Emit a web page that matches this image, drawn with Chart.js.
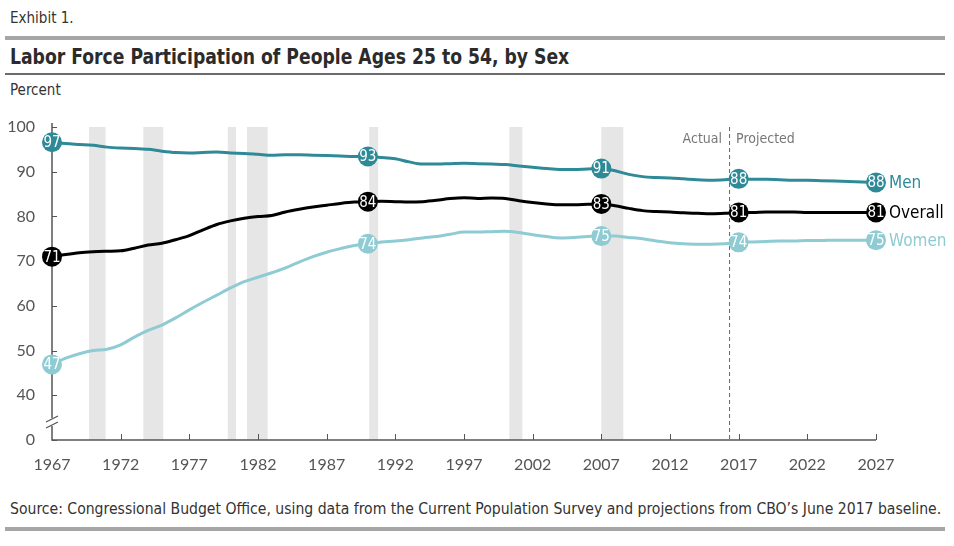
<!DOCTYPE html>
<html>
<head>
<meta charset="utf-8">
<script src="https://cdn.jsdelivr.net/npm/chart.js@4.4.1/dist/chart.umd.min.js"></script>
<style>
  body { margin: 0; background: #fff; width: 954px; height: 546px; position: relative; overflow: hidden; font-family: "Liberation Sans Narrow", "DejaVu Sans Condensed", "Roboto", sans-serif; color: #333; }
  .exhibit { position: absolute; left: 10px; top: 9px; font-size: 15px; color: #333; }
  .rule-thick { position: absolute; left: 5px; width: 940px; height: 4px; background: #a6a6a6; }
  .title { position: absolute; left: 10px; top: 44px; font-size: 22px; font-weight: bold; color: #2b2b2b; white-space: nowrap; transform: scaleX(0.87); transform-origin: left center; }
  .rule-thin { position: absolute; left: 5px; top: 73px; width: 940px; height: 2px; background: #6b6b6b; }
  .unit { position: absolute; left: 10px; top: 81px; font-size: 15px; color: #333; }
  .source { position: absolute; left: 10px; top: 500px; font-size: 15.6px; color: #333; white-space: nowrap; }
  #wrap { position: absolute; left: 0; top: 100px; width: 954px; height: 380px; }
</style>
</head>
<body>
<div class="exhibit">Exhibit 1.</div>
<div class="rule-thick" style="top:36px"></div>
<div class="title">Labor Force Participation of People Ages 25 to 54, by Sex</div>
<div class="rule-thin"></div>
<div class="unit">Percent</div>
<div id="wrap"><canvas id="lfprChart"></canvas></div>
<div class="source">Source: Congressional Budget Office, using data from the Current Population Survey and projections from CBO’s June 2017 baseline.</div>
<div class="rule-thick" style="top:527px"></div>

<script>
// Years on the x axis
const years = [
  1967, 1968, 1969, 1970, 1971, 1972, 1973, 1974, 1975, 1976,
  1977, 1978, 1979, 1980, 1981, 1982, 1983, 1984, 1985, 1986,
  1987, 1988, 1989, 1990, 1991, 1992, 1993, 1994, 1995, 1996,
  1997, 1998, 1999, 2000, 2001, 2002, 2003, 2004, 2005, 2006,
  2007, 2008, 2009, 2010, 2011, 2012, 2013, 2014, 2015, 2016,
  2017, 2018, 2019, 2020, 2021, 2022, 2023, 2024, 2025, 2026, 2027
];

// Participation rates (percent)
const men = [
  96.6, 96.3, 96.1, 95.9, 95.5, 95.3, 95.2, 95.0, 94.6, 94.3,
  94.2, 94.3, 94.4, 94.2, 94.1, 93.9, 93.7, 93.8, 93.8, 93.7,
  93.6, 93.5, 93.4, 93.4, 93.2, 92.9, 92.2, 91.7, 91.7, 91.8,
  91.9, 91.8, 91.7, 91.6, 91.3, 91.0, 90.7, 90.5, 90.5, 90.6,
  90.7, 90.2, 89.4, 88.9, 88.7, 88.6, 88.4, 88.2, 88.1, 88.2,
  88.4, 88.3, 88.3, 88.2, 88.1, 88.1, 88.0, 87.9, 87.8, 87.7, 87.6
];
const overall = [
  71.0, 71.5, 71.9, 72.1, 72.2, 72.3, 72.9, 73.6, 74.0, 74.8,
  75.7, 77.0, 78.2, 79.0, 79.6, 80.0, 80.2, 81.0, 81.6, 82.1,
  82.5, 82.9, 83.2, 83.3, 83.4, 83.3, 83.2, 83.3, 83.6, 84.0,
  84.2, 84.0, 84.1, 84.0, 83.5, 83.1, 82.8, 82.6, 82.6, 82.7,
  82.8, 82.4, 81.8, 81.3, 81.1, 81.0, 80.8, 80.7, 80.6, 80.7,
  80.9, 80.9, 81.0, 81.0, 81.0, 80.9, 80.9, 80.9, 80.9, 80.9, 80.9
];
const women = [
  46.9, 48.3, 49.3, 50.0, 50.3, 51.3, 53.0, 54.5, 55.7, 57.3,
  59.1, 60.8, 62.4, 64.0, 65.4, 66.4, 67.4, 68.5, 69.8, 71.0,
  72.0, 72.8, 73.5, 73.9, 74.3, 74.5, 74.8, 75.2, 75.5, 76.0,
  76.5, 76.5, 76.6, 76.7, 76.4, 75.9, 75.5, 75.2, 75.3, 75.5,
  75.6, 75.6, 75.3, 75.0, 74.5, 74.1, 73.9, 73.8, 73.8, 73.9,
  74.2, 74.3, 74.4, 74.5, 74.5, 74.6, 74.6, 74.7, 74.7, 74.7, 74.7
];

// Labelled points
const markerYears = [1967, 1990, 2007, 2017, 2027];
const menLabels = ["97", "93", "91", "88", "88"];
const overallLabels = ["71", "84", "83", "81", "81"];
const womenLabels = ["47", "74", "75", "74", "75"];

// Recession shading (start, end) in years
const recessionStart = [1969.7, 1973.65, 1979.8, 1981.2, 1990.1, 2000.3, 2007.0];
const recessionEnd = [1970.9, 1975.1, 1980.4, 1982.7, 1990.75, 2001.25, 2008.6];

// Actual / projected split
const splitYear = 2016.3;

const yTicks = [100, 90, 80, 70, 60, 50, 40, 30];

const menColor = "#2f8a98";
const overallColor = "#000000";
const womenColor = "#8ecbd3";
const tickFont = '"Lato", "Open Sans", sans-serif';
const narrowFont = '"Liberation Sans Narrow", "DejaVu Sans Condensed", sans-serif';

function toPoints(values) {
  return years.map((yr, i) => ({ x: yr, y: values[i] }));
}

// Plugin: shading, axes, divider and labels
const decorPlugin = {
  id: "decor",
  beforeDatasetsDraw(chart) {
    const ctx = chart.ctx;
    const x = chart.scales.x;
    const y = chart.scales.y;
    const top = y.getPixelForValue(100);
    const bottom = y.getPixelForValue(30);
    ctx.save();

    // recessions
    ctx.fillStyle = "#e6e6e6";
    recessionStart.forEach((s, i) => {
      const x0 = x.getPixelForValue(s);
      const x1 = x.getPixelForValue(recessionEnd[i]);
      ctx.fillRect(x0, top, x1 - x0, bottom - top);
    });

    // divider
    const xs = x.getPixelForValue(splitYear);
    ctx.strokeStyle = "#666";
    ctx.lineWidth = 1;
    ctx.setLineDash([4, 3]);
    ctx.beginPath();
    ctx.moveTo(xs + 0.5, top);
    ctx.lineTo(xs + 0.5, bottom);
    ctx.stroke();
    ctx.setLineDash([]);

    ctx.font = "14px " + narrowFont;
    ctx.fillStyle = "#777";
    ctx.textBaseline = "middle";
    ctx.textAlign = "right";
    ctx.fillText("Actual", xs - 7, top + 12);
    ctx.textAlign = "left";
    ctx.fillText("Projected", xs + 7, top + 12);

    // axes
    const left = x.getPixelForValue(1967);
    const right = x.getPixelForValue(2027);
    ctx.strokeStyle = "#555";
    ctx.lineWidth = 1.5;
    ctx.beginPath();
    ctx.moveTo(left, top - 4);
    ctx.lineTo(left, bottom - 22);
    ctx.moveTo(left, bottom - 14);
    ctx.lineTo(left, bottom);
    ctx.lineTo(right, bottom);
    ctx.stroke();

    // axis break
    ctx.lineWidth = 1.2;
    ctx.beginPath();
    ctx.moveTo(left - 6, bottom - 18);
    ctx.lineTo(left + 6, bottom - 24);
    ctx.moveTo(left - 6, bottom - 12);
    ctx.lineTo(left + 6, bottom - 18);
    ctx.stroke();

    // tick marks
    ctx.lineWidth = 1;
    yTicks.forEach(v => {
      const py = Math.round(y.getPixelForValue(v)) + 0.5;
      ctx.beginPath();
      ctx.moveTo(left, py);
      ctx.lineTo(left + 5, py);
      ctx.stroke();
    });
    for (let yr = 1972; yr <= 2027; yr += 5) {
      const px = Math.round(x.getPixelForValue(yr)) + 0.5;
      ctx.beginPath();
      ctx.moveTo(px, bottom);
      ctx.lineTo(px, bottom - 6);
      ctx.stroke();
    }
    ctx.restore();
  },
  afterDatasetsDraw(chart) {
    const ctx = chart.ctx;
    const x = chart.scales.x;
    const y = chart.scales.y;
    ctx.save();
    const groups = [
      { values: men, labels: menLabels, color: menColor },
      { values: overall, labels: overallLabels, color: overallColor },
      { values: women, labels: womenLabels, color: womenColor }
    ];
    groups.forEach(g => {
      markerYears.forEach((yr, i) => {
        const idx = years.indexOf(yr);
        const px = x.getPixelForValue(yr);
        const py = y.getPixelForValue(g.values[idx]);
        ctx.fillStyle = g.color;
        ctx.beginPath();
        ctx.arc(px, py, 10, 0, Math.PI * 2);
        ctx.fill();
        ctx.fillStyle = "#fff";
        ctx.font = "15px " + narrowFont;
        ctx.textAlign = "center";
        ctx.textBaseline = "middle";
        ctx.fillText(g.labels[i], px, py + 1);
      });
    });

    // series names at the right end
    const endX = x.getPixelForValue(2027) + 13;
    const last = years.length - 1;
    ctx.textAlign = "left";
    ctx.textBaseline = "middle";
    ctx.font = "17px " + narrowFont;
    ctx.fillStyle = menColor;
    ctx.fillText("Men", endX, y.getPixelForValue(men[last]) + 1);
    ctx.fillStyle = overallColor;
    ctx.fillText("Overall", endX, y.getPixelForValue(overall[last]) + 1);
    ctx.fillStyle = womenColor;
    ctx.fillText("Women", endX, y.getPixelForValue(women[last]) + 1);
    ctx.restore();
  }
};

function initChart() {
  const ctx = document.getElementById("lfprChart").getContext("2d");
  const lineStyle = { pointRadius: 0, borderWidth: 3, cubicInterpolationMode: "monotone", fill: false };
  new Chart(ctx, {
    type: "line",
    data: {
      datasets: [
        Object.assign({ label: "Women", data: toPoints(women), borderColor: womenColor }, lineStyle),
        Object.assign({ label: "Overall", data: toPoints(overall), borderColor: overallColor }, lineStyle),
        Object.assign({ label: "Men", data: toPoints(men), borderColor: menColor }, lineStyle)
      ]
    },
    options: {
      responsive: true,
      maintainAspectRatio: false,
      animation: false,
      layout: { padding: { top: 27, right: 78, left: 0, bottom: 0 } },
      plugins: { legend: { display: false }, tooltip: { enabled: false } },
      scales: {
        x: {
          type: "linear",
          min: 1967,
          max: 2027,
          grid: { display: false },
          border: { display: false },
          ticks: {
            stepSize: 5,
            padding: 7,
            color: "#555",
            font: { family: tickFont, size: 16 },
            maxRotation: 0,
            callback: v => String(v)
          },
          afterFit: s => { s.height = 40; }
        },
        y: {
          min: 30,
          max: 100,
          grid: { display: false },
          border: { display: false },
          ticks: {
            stepSize: 10,
            padding: 9,
            color: "#555",
            font: { family: tickFont, size: 16 },
            callback: v => (v === 30 ? "0" : String(v))
          },
          afterFit: s => { s.width = 52; }
        }
      }
    },
    plugins: [decorPlugin]
  });
}

window.onload = function() {
  initChart();
};
</script>
</body>
</html>
